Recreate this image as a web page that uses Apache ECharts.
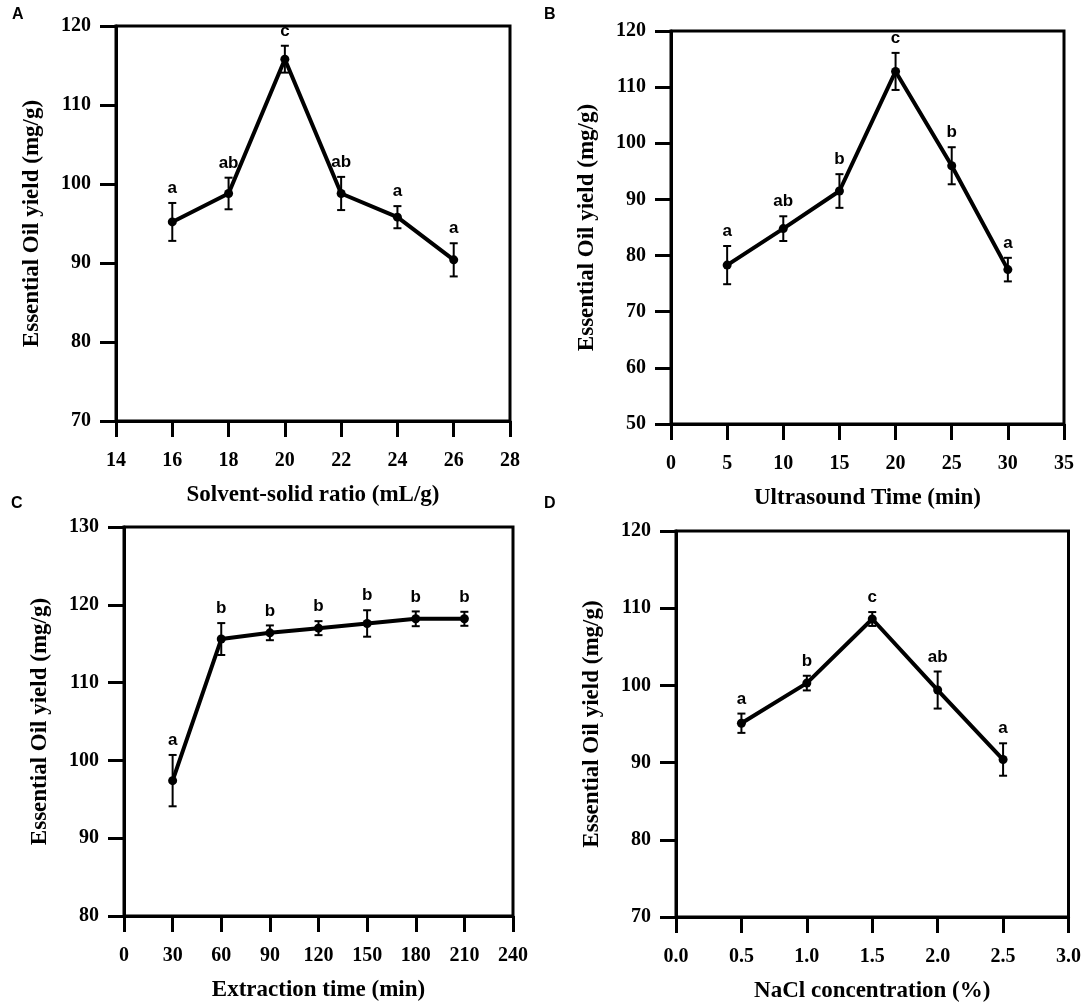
<!DOCTYPE html>
<html>
<head>
<meta charset="utf-8">
<script src="https://cdn.jsdelivr.net/npm/echarts@6/dist/echarts.min.js"></script>
<style>
  html, body { margin: 0; padding: 0; background: #fff; }
  #chart { width: 1084px; height: 1004px; }
</style>
</head>
<body>
<div id="chart"></div>
<script>
// A - solvent-solid ratio
const ratioX = [16, 18, 20, 22, 24, 26];
const ratioY = [95.2, 98.8, 115.8, 98.8, 95.8, 90.4];
const ratioErr = [2.4, 2.0, 1.7, 2.1, 1.4, 2.1];
const ratioLetters = ["a", "ab", "c", "ab", "a", "a"];

// B - ultrasound time
const ultraX = [5, 10, 15, 20, 25, 30];
const ultraY = [78.3, 84.8, 91.5, 112.8, 96.0, 77.5];
const ultraErr = [3.4, 2.2, 3.0, 3.3, 3.3, 2.1];
const ultraLetters = ["a", "ab", "b", "c", "b", "a"];

// C - extraction time
const extrX = [30, 60, 90, 120, 150, 180, 210];
const extrY = [97.4, 115.6, 116.4, 117.0, 117.6, 118.2, 118.2];
const extrErr = [3.3, 2.05, 0.95, 0.9, 1.7, 0.95, 0.9];
const extrLetters = ["a", "b", "b", "b", "b", "b", "b"];

// D - NaCl concentration
const naclX = [0.5, 1.0, 1.5, 2.0, 2.5];
const naclY = [95.1, 100.3, 108.6, 99.4, 90.4];
const naclErr = [1.25, 0.95, 0.9, 2.4, 2.1];
const naclLetters = ["a", "b", "c", "ab", "a"];

const serif = "Liberation Serif";
const sans = "Liberation Sans";

const panels = [
	{ tag: "A", x: ratioX, y: ratioY, err: ratioErr, letters: ratioLetters,
		xName: "Solvent-solid ratio (mL/g)", xMin: 14, xMax: 28, xStep: 2, yMin: 70, yMax: 120,
		grid: { left: 116, top: 26, width: 394, height: 395 } },
	{ tag: "B", x: ultraX, y: ultraY, err: ultraErr, letters: ultraLetters,
		xName: "Ultrasound Time (min)", xMin: 0, xMax: 35, xStep: 5, yMin: 50, yMax: 120,
		grid: { left: 671, top: 31, width: 393, height: 393 } },
	{ tag: "C", x: extrX, y: extrY, err: extrErr, letters: extrLetters,
		xName: "Extraction time (min)", xMin: 0, xMax: 240, xStep: 30, yMin: 80, yMax: 130,
		grid: { left: 124, top: 527, width: 389, height: 389 } },
	{ tag: "D", x: naclX, y: naclY, err: naclErr, letters: naclLetters,
		xName: "NaCl concentration (%)", xMin: 0, xMax: 3, xStep: 0.5, yMin: 70, yMax: 120, fixed: 1,
		grid: { left: 676, top: 531, width: 396, height: 386 } }
];

const tagPos = { A: [12, 7], B: [544, 7], C: [11, 496], D: [544, 496] };

const axisCommon = {
	type: "value",
	splitLine: { show: false },
	axisLine: { show: true, lineStyle: { color: "#000", width: 3 } },
	axisTick: { show: true, inside: false, length: 16, lineStyle: { color: "#000", width: 3 } },
	nameTextStyle: { fontFamily: serif, fontWeight: "bold", fontSize: 23, color: "#000" }
};

const chart = echarts.init(document.getElementById("chart"));

const grids = [], xAxes = [], yAxes = [], series = [], graphics = [];

panels.forEach(function (p, i) {
	grids.push(Object.assign({ show: true, borderWidth: 3, borderColor: "#000", containLabel: false }, p.grid));
	xAxes.push(Object.assign({}, axisCommon, {
		gridIndex: i,
		min: p.xMin, max: p.xMax, interval: p.xStep,
		name: p.xName, nameLocation: "middle", nameGap: 63,
		axisLabel: {
			margin: 30, fontFamily: serif, fontWeight: "bold", fontSize: 20, color: "#000",
			formatter: function (v) { return p.fixed ? v.toFixed(p.fixed) : String(v); }
		}
	}));
	yAxes.push(Object.assign({}, axisCommon, {
		gridIndex: i,
		min: p.yMin, max: p.yMax, interval: 10,
		name: "Essential Oil yield (mg/g)", nameLocation: "middle", nameRotate: 90, nameGap: 72,
		axisLabel: { margin: 25, fontFamily: serif, fontWeight: "bold", fontSize: 20, color: "#000" }
	}));

	// error bars + significance letters
	series.push({
		type: "custom",
		xAxisIndex: i,
		yAxisIndex: i,
		z: 3,
		data: p.x.map(function (v, k) { return [v, p.y[k], p.err[k]]; }),
		renderItem: function (params, api) {
			const x = api.value(0), y = api.value(1), e = api.value(2);
			const hi = api.coord([x, y + e]);
			const lo = api.coord([x, y - e]);
			const st = { stroke: "#000", lineWidth: 2 };
			return {
				type: "group",
				children: [
					{ type: "line", shape: { x1: hi[0], y1: hi[1], x2: lo[0], y2: lo[1] }, style: st },
					{ type: "line", shape: { x1: hi[0] - 4, y1: hi[1], x2: hi[0] + 4, y2: hi[1] }, style: st },
					{ type: "line", shape: { x1: lo[0] - 4, y1: lo[1], x2: lo[0] + 4, y2: lo[1] }, style: st },
					{ type: "text", x: hi[0], y: hi[1] - 6,
						style: { text: p.letters[params.dataIndex], align: "center", verticalAlign: "bottom",
							fontFamily: sans, fontWeight: "bold", fontSize: 17, fill: "#000" } }
				]
			};
		}
	});

	series.push({
		type: "line",
		xAxisIndex: i,
		yAxisIndex: i,
		z: 4,
		data: p.x.map(function (v, k) { return [v, p.y[k]]; }),
		symbol: "circle",
		symbolSize: 9,
		itemStyle: { color: "#000" },
		lineStyle: { color: "#000", width: 4 }
	});

	graphics.push({
		type: "text", left: tagPos[p.tag][0], top: tagPos[p.tag][1],
		style: { text: p.tag, fontFamily: sans, fontWeight: "bold", fontSize: 16, fill: "#000" }
	});
});

chart.setOption({
	animation: false,
	backgroundColor: "#fff",
	grid: grids,
	xAxis: xAxes,
	yAxis: yAxes,
	series: series,
	graphic: graphics
});
</script>
</body>
</html>
